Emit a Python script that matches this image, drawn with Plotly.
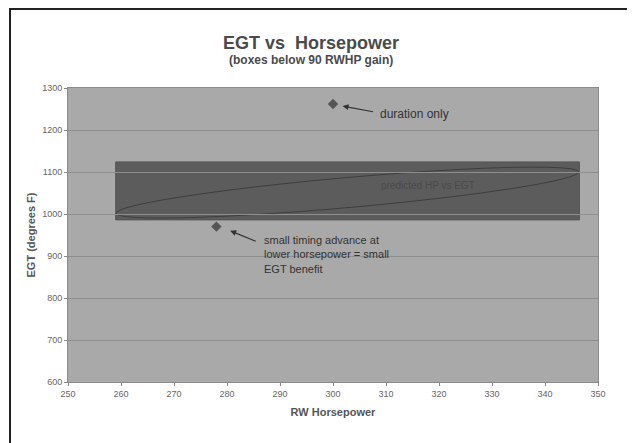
"""EGT vs Horsepower - scatter with shaded band."""
import numpy as np
import plotly.graph_objects as go

# data points
hp = [300, 278]
egt = [1262, 970]
point_labels = ["duration only", "small timing advance at<br>lower horsepower = small<br>EGT benefit"]

# shaded box (boxes below 90 RWHP gain)
box_x = [259, 346.5]
box_y = [986, 1124]

x_ticks = list(range(250, 351, 10))
y_ticks = list(range(600, 1301, 100))

fig = go.Figure()

# band
fig.add_shape(type="rect", x0=box_x[0], x1=box_x[1], y0=box_y[0], y1=box_y[1],
              fillcolor="#5c5c5c", line=dict(color="#555555", width=1), layer="below")

# hand drawn ellipse inside the band (pixel-space ellipse -> data)
px_per_x = 530 / 100.0
px_per_y = 294 / 700.0
cx, cy = 302.7, 1051
a_px, b_px, ang = 232, 15, np.deg2rad(5.1)
t = np.linspace(0, 2 * np.pi, 120)
ex = a_px * np.cos(t) * np.cos(ang) - b_px * np.sin(t) * np.sin(ang)
ey = a_px * np.cos(t) * np.sin(ang) + b_px * np.sin(t) * np.cos(ang)
path = "M " + " L ".join(f"{cx + dx / px_per_x:.3f},{cy + dy / px_per_y:.3f}" for dx, dy in zip(ex, ey)) + " Z"
fig.add_shape(type="path", path=path, line=dict(color="#3e3e3e", width=1), layer="below")

fig.add_trace(go.Scatter(x=hp, y=egt, mode="markers",
                         marker=dict(symbol="diamond", size=8, color="#555555"),
                         showlegend=False))

font_ann = dict(family="Liberation Sans, Arial", size=11, color="#333333")

# arrows
fig.add_annotation(x=hp[0] + 1.8, y=egt[0] - 5, ax=32, ay=6, text="", showarrow=True,
                   arrowhead=2, arrowsize=1, arrowwidth=1.2, arrowcolor="#333333")
fig.add_annotation(x=hp[1] + 2.6, y=egt[1] - 10, ax=27, ay=11, text="", showarrow=True,
                   arrowhead=2, arrowsize=1, arrowwidth=1.2, arrowcolor="#333333")
# labels
fig.add_annotation(x=308.5, y=1238, text=point_labels[0], showarrow=False,
                   xanchor="left", yanchor="middle", font=dict(font_ann, size=12))
fig.add_annotation(x=286.6, y=958, text=point_labels[1], showarrow=False,
                   xanchor="left", yanchor="top", align="left", font=font_ann)
fig.add_annotation(x=318, y=1069, text="predicted HP vs EGT", showarrow=False,
                   font=dict(family="Liberation Sans, Arial", size=10, color="#4a4a4a"))

# title + subtitle
fig.add_annotation(xref="paper", yref="paper", x=0.458, y=1.0 + (88 - 43) / 294.0,
                   text="<b>EGT vs  Horsepower</b>", showarrow=False, yanchor="middle",
                   font=dict(family="Liberation Sans, Arial", size=18, color="#4a4a4a"))
fig.add_annotation(xref="paper", yref="paper", x=0.458, y=1.0 + (88 - 60) / 294.0,
                   text="<b>(boxes below 90 RWHP gain)</b>", showarrow=False, yanchor="middle",
                   font=dict(family="Liberation Sans, Arial", size=12, color="#4a4a4a"))

# outer frame
fig.add_shape(type="rect", xref="paper", yref="paper", x0=-0.1094, x1=1.064, y0=-0.4, y1=1.2687,
              line=dict(color="#222222", width=2), layer="above")

fig.update_layout(
    width=635, height=443,
    margin=dict(l=60, r=45, t=80, b=69),
    paper_bgcolor="white", plot_bgcolor="#a9a9a9",
    font=dict(family="Liberation Sans, Arial", color="#555555"),
    showlegend=False,
)
fig.update_xaxes(range=[250, 350], tickvals=x_ticks, showgrid=False, zeroline=False,
                 ticks="outside", ticklen=3, tickcolor="#888888", tickfont=dict(size=9, color="#666666"),
                 showline=True, linecolor="#8a8a8a", mirror=True,
                 title=dict(text="<b>RW Horsepower</b>", font=dict(size=11, color="#555555"), standoff=10))
fig.update_yaxes(range=[600, 1300], tickvals=y_ticks, showgrid=True, gridcolor="#8e8e8e", gridwidth=1,
                 zeroline=False, ticks="outside", ticklen=3, tickcolor="#888888",
                 tickfont=dict(size=9, color="#666666"),
                 showline=True, linecolor="#8a8a8a", mirror=True,
                 title=dict(text="<b>EGT (degrees F)</b>", font=dict(size=11, color="#555555"), standoff=4))

fig.write_html("out.html")
